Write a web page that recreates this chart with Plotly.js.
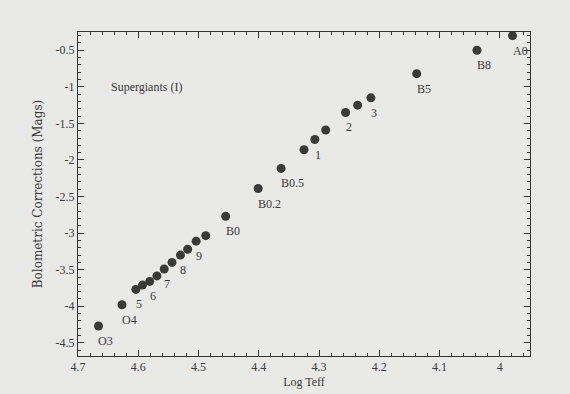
<!DOCTYPE html>
<html>
<head>
<meta charset="utf-8">
<script src="https://cdn.plot.ly/plotly-3.0.1.min.js"></script>
<style>html,body{margin:0;padding:0;background:#e9e9e7;}</style>
</head>
<body>
<div id="chart" style="width:570px;height:394px;"></div>
<script>
// Log Teff for each spectral type (supergiants)
const logTeff = [4.666, 4.627, 4.604, 4.593, 4.581, 4.569, 4.557, 4.544, 4.530, 4.518, 4.504, 4.488, 4.455,
                 4.401, 4.363, 4.325, 4.307, 4.289, 4.256, 4.236, 4.214, 4.138, 4.038, 3.979];
// Bolometric corrections (mags)
const bolCorr = [-4.27, -3.98, -3.77, -3.71, -3.66, -3.585, -3.49, -3.40, -3.30, -3.22, -3.11, -3.035, -2.77,
                 -2.39, -2.115, -1.86, -1.72, -1.59, -1.35, -1.25, -1.15, -0.82, -0.50, -0.30];
// Spectral type labels ("" = unlabeled point)
const typeLabels = ["O3", "O4", "5", "", "6", "", "7", "", "8", "", "9", "", "B0",
                    "B0.2", "B0.5", "", "1", "", "2", "", "3", "B5", "B8", "A0"];
const xTicks = [4.7, 4.6, 4.5, 4.4, 4.3, 4.2, 4.1, 4.0];
const xTickText = ["4.7", "4.6", "4.5", "4.4", "4.3", "4.2", "4.1", "4"];
const yTicks = [-4.5, -4, -3.5, -3, -2.5, -2, -1.5, -1, -0.5];
const yTickText = ["-4.5", "-4", "-3.5", "-3", "-2.5", "-2", "-1.5", "-1", "-0.5"];

const fontFam = "Liberation Serif, DejaVu Serif, serif";
const txtColor = "#3a3a3a";

const annotations = [];
for (let i = 0; i < logTeff.length; i++) {
  if (!typeLabels[i]) continue;
  annotations.push({
    x: logTeff[i], y: bolCorr[i], xref: "x", yref: "y",
    text: typeLabels[i], showarrow: false,
    xanchor: "left", yanchor: "middle", xshift: -2, yshift: -15,
    font: {family: fontFam, size: 12, color: txtColor}
  });
}
annotations.push({
  x: 0.068, y: 0.83, xref: "paper", yref: "paper",
  text: "Supergiants (I)", showarrow: false, xanchor: "left", yanchor: "middle",
  font: {family: fontFam, size: 12, color: txtColor}
});

const axisCommon = {
  showgrid: false, zeroline: false, showline: true, linecolor: "#333", linewidth: 1,
  mirror: "allticks", ticks: "inside", ticklen: 6, tickcolor: "#333", tickwidth: 1,
  tickfont: {family: fontFam, size: 12, color: txtColor}
};

const layout = {
  width: 570, height: 394,
  margin: {l: 78, r: 40, t: 32, b: 38},
  paper_bgcolor: "#e9e9e7", plot_bgcolor: "#e9e9e7",
  showlegend: false,
  xaxis: Object.assign({}, axisCommon, {
    range: [4.7, 3.95], tickmode: "array", tickvals: xTicks, ticktext: xTickText,
    minor: {ticks: "inside", ticklen: 3, dtick: 0.02, tick0: 4.0, tickcolor: "#333"},
    title: {text: "Log Teff", standoff: 4, font: {family: fontFam, size: 12, color: txtColor}}
  }),
  yaxis: Object.assign({}, axisCommon, {
    range: [-4.68, -0.25], tickmode: "array", tickvals: yTicks, ticktext: yTickText,
    minor: {ticks: "inside", ticklen: 3, dtick: 0.1, tick0: 0, tickcolor: "#333"},
    title: {text: "Bolometric Corrections (Mags)", standoff: 10, font: {family: "DejaVu Serif, serif", size: 12, color: txtColor}}
  }),
  annotations: annotations
};

const trace = {
  x: logTeff, y: bolCorr, type: "scatter", mode: "markers",
  marker: {size: 9, color: "#3a3a3a", line: {width: 0}},
  hoverinfo: "skip"
};

Plotly.newPlot("chart", [trace], layout, {staticPlot: true, displayModeBar: false});
</script>
</body>
</html>
